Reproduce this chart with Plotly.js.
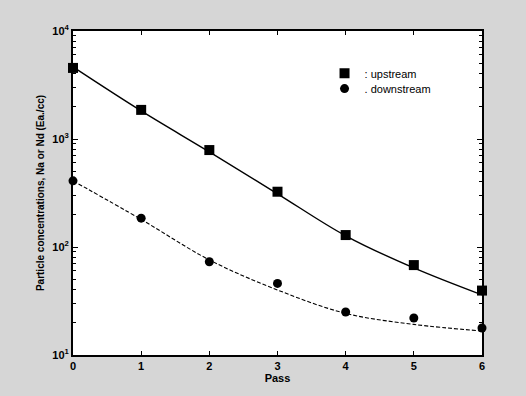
<!DOCTYPE html>
<html>
<head>
<meta charset="utf-8">
<script src="https://cdn.plot.ly/plotly-3.0.1.min.js"></script>
<style>html,body{margin:0;padding:0;background:#d6d6d6;}#chart{width:526px;height:396px;}</style>
</head>
<body>
<div id="chart"></div>
<script>
const passes = [0, 1, 2, 3, 4, 5, 6];
const upstream = [4550, 1860, 790, 325, 129, 68, 39.5];
const downstream = [410, 185, 73, 46, 25, 22, 17.8];
const upstreamFit = [4650, 1820, 760, 311, 127, 64, 36];
const downstreamFit = [410, 180, 76, 40, 24.3, 19.2, 16.7];
const yTickVals = [10, 100, 1000, 10000];
const yTickText = ['10<sup>1</sup>', '10<sup>2</sup>', '10<sup>3</sup>', '10<sup>4</sup>'];
const xTickVals = [0, 1, 2, 3, 4, 5, 6];
const minorMantissas = [2, 3, 4, 5, 6, 7, 8, 9];
const decades = [10, 100, 1000];

const yMinorVals = [];
decades.forEach(d => minorMantissas.forEach(m => yMinorVals.push(m * d)));

const fam = 'Liberation Sans, Arial, sans-serif';
const font = {family: fam, size: 11, color: '#000'};
const boldFont = {family: fam, size: 11, color: '#000', weight: 'bold'};

const traces = [
  {x: passes, y: upstreamFit, mode: 'lines', line: {color: '#000', width: 1.4, shape: 'spline'}, showlegend: false, hoverinfo: 'skip'},
  {x: passes, y: downstreamFit, mode: 'lines', line: {color: '#000', width: 1.1, shape: 'spline', dash: '4px,2px'}, showlegend: false, hoverinfo: 'skip'},
  {x: passes, y: upstream, mode: 'markers', name: ': upstream', legend: 'legend', marker: {symbol: 'square', size: 10, color: '#000'}, cliponaxis: false},
  {x: passes, y: downstream, mode: 'markers', name: '. downstream', legend: 'legend2', marker: {symbol: 'circle', size: 9, color: '#000'}, cliponaxis: false}
];

const legendFont = {family: fam, size: 11, color: '#000'};
const layout = {
  width: 526, height: 396,
  margin: {l: 73, r: 44, t: 31, b: 40.5},
  paper_bgcolor: '#d6d6d6',
  plot_bgcolor: '#ffffff',
  font: font,
  showlegend: true,
  legend: {x: 0.615, y: 0.914, xanchor: 'left', yanchor: 'top', bgcolor: 'rgba(0,0,0,0)', font: legendFont, itemwidth: 30},
  legend2: {x: 0.615, y: 0.867, xanchor: 'left', yanchor: 'top', bgcolor: 'rgba(0,0,0,0)', font: legendFont, itemwidth: 30},
  xaxis: {
    range: [0, 6], tickvals: xTickVals, ticks: 'inside', ticklen: 4, tickcolor: '#000',
    showline: true, linecolor: '#000', linewidth: 2, mirror: 'ticks', showgrid: false, zeroline: false,
    tickfont: boldFont,
    title: {text: 'Pass', font: boldFont, standoff: 2}
  },
  yaxis: {
    type: 'log', range: [1, 4], tickvals: yTickVals, ticktext: yTickText,
    ticks: 'inside', ticklen: 5, tickcolor: '#000',
    minor: {tickvals: yMinorVals, ticks: 'inside', ticklen: 3, tickcolor: '#000', showgrid: false},
    showline: true, linecolor: '#000', linewidth: 2, mirror: 'ticks', showgrid: false, zeroline: false,
    tickfont: boldFont,
    title: {text: 'Particle concentrations, Na or Nd (Ea./cc)', font: {family: fam, size: 10, color: '#000', weight: 'bold'}, standoff: 6}
  }
};

Plotly.newPlot('chart', traces, layout, {staticPlot: true, displayModeBar: false});
</script>
</body>
</html>
